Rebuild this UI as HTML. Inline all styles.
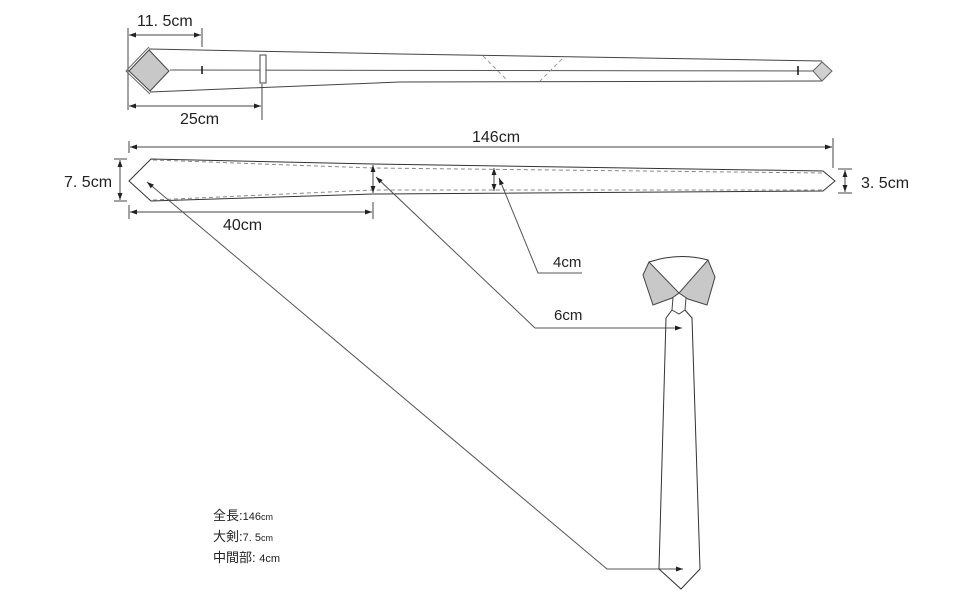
<!DOCTYPE html>
<html><head><meta charset="utf-8">
<style>
html,body{margin:0;padding:0;background:#fff;}
svg{display:block;}
text{font-family:"Liberation Sans","Noto Sans CJK JP",sans-serif;fill:#222;}
</style></head>
<body>
<svg width="970" height="600" viewBox="0 0 970 600" xmlns="http://www.w3.org/2000/svg">
<defs>
<marker id="a" viewBox="0 0 10 10" refX="10" refY="5" markerWidth="7" markerHeight="7" orient="auto-start-reverse" markerUnits="userSpaceOnUse">
<path d="M0,1.5 L10,5 L0,8.5 z" fill="#222"/>
</marker>
</defs>

<g stroke="#444" stroke-width="1" fill="none">
<!-- ===== TOP TIE ===== -->
<line x1="128" y1="28" x2="128" y2="110"/>
<line x1="202" y1="28" x2="202" y2="47"/>
<line x1="129" y1="35" x2="201" y2="35" marker-start="url(#a)" marker-end="url(#a)"/>
<line x1="262" y1="84" x2="262" y2="120"/>
<line x1="129" y1="106" x2="261" y2="106" marker-start="url(#a)" marker-end="url(#a)"/>

<polyline points="149,49 400,54 822,61"/>
<polyline points="150,92 400,82 822,81"/>
<line x1="170" y1="70" x2="813" y2="71" stroke="#555"/>
<line x1="202" y1="66" x2="202" y2="74" stroke="#111" stroke-width="1.5"/>
<line x1="798" y1="66" x2="798" y2="75" stroke="#111" stroke-width="1.5"/>
<rect x="260" y="55" width="6" height="28" fill="#fff"/>
<polyline points="149,47 126,71 150,94" stroke="#666"/>
<polygon points="129,71 149,50 169,71 150,91" fill="#c8c8c8"/>
<polygon points="813,71 822,62 832,71 822,81" fill="#d0d0d0" stroke="#666"/>
<line x1="483" y1="56" x2="506" y2="79" stroke="#999" stroke-dasharray="4,3"/>
<line x1="562" y1="59" x2="540" y2="81" stroke="#999" stroke-dasharray="4,3"/>

<!-- ===== SECOND TIE ===== -->
<line x1="129" y1="141" x2="129" y2="153"/>
<line x1="833" y1="138" x2="833" y2="168"/>
<line x1="130" y1="147" x2="832" y2="147" marker-start="url(#a)" marker-end="url(#a)"/>

<polygon points="129,181 151,159 373,164 823,171 835,181 823,191 373,194 151,201" stroke="#333"/>
<polyline points="153,160 373,168 823,173" stroke="#888" stroke-dasharray="4,3"/>
<polyline points="153,200 373,190 823,190" stroke="#888" stroke-dasharray="4,3"/>

<line x1="373" y1="165" x2="373" y2="193" marker-start="url(#a)" marker-end="url(#a)"/>
<line x1="494" y1="168" x2="494" y2="191" marker-start="url(#a)" marker-end="url(#a)"/>

<!-- 7.5 -->
<line x1="114" y1="159" x2="127" y2="159"/>
<line x1="114" y1="201" x2="127" y2="201"/>
<line x1="120" y1="160" x2="120" y2="200" marker-start="url(#a)" marker-end="url(#a)"/>
<!-- 3.5 -->
<line x1="838" y1="169" x2="852" y2="169"/>
<line x1="838" y1="193" x2="852" y2="193"/>
<line x1="845" y1="170" x2="845" y2="192" marker-start="url(#a)" marker-end="url(#a)"/>
<!-- 40 -->
<line x1="129" y1="205" x2="129" y2="219"/>
<line x1="373" y1="202" x2="373" y2="219"/>
<line x1="130" y1="212" x2="372" y2="212" marker-start="url(#a)" marker-end="url(#a)"/>

<!-- leaders -->
<polyline points="147,182 607,569 683,569" stroke="#555" marker-start="url(#a)" marker-end="url(#a)"/>
<polyline points="376,177 535,328 682,328" stroke="#555" marker-start="url(#a)" marker-end="url(#a)"/>
<polyline points="499,178 538,273 582,273" stroke="#555" marker-start="url(#a)"/>

<!-- ===== FRONT TIE ===== -->
<path d="M649,262 Q679,252 708,260" stroke="#333"/>
<polygon points="649,262 643,275 653,305 672,298 679,293" fill="#c8c8c8" stroke="#444"/>
<polygon points="708,260 715,277 707,305 688,299 679,293" fill="#c8c8c8" stroke="#444"/>
<polyline points="673,297 672,310 679,314 685,310 686,298" stroke="#444"/>
<polyline points="672,310 666,318 659,569 681,589 700,569 692,318 685,310" stroke="#333"/>
</g>

<!-- ===== TEXT ===== -->
<text x="137" y="26" font-size="16">11. 5cm</text>
<text x="180" y="124" font-size="16">25cm</text>
<text x="472" y="142" font-size="16">146cm</text>
<text x="64" y="187" font-size="16">7. 5cm</text>
<text x="861" y="188" font-size="16">3. 5cm</text>
<text x="223" y="230" font-size="16">40cm</text>
<text x="553" y="267" font-size="15">4cm</text>
<text x="554" y="320" font-size="15">6cm</text>

<text x="213" y="520" font-size="13">全長:<tspan font-size="11">146</tspan><tspan font-size="9">cm</tspan></text>
<text x="213" y="541" font-size="13">大剣:<tspan font-size="11">7. 5</tspan><tspan font-size="9">cm</tspan></text>
<text x="213" y="562" font-size="13">中間部: <tspan font-size="11">4cm</tspan></text>
</svg>
</body></html>
